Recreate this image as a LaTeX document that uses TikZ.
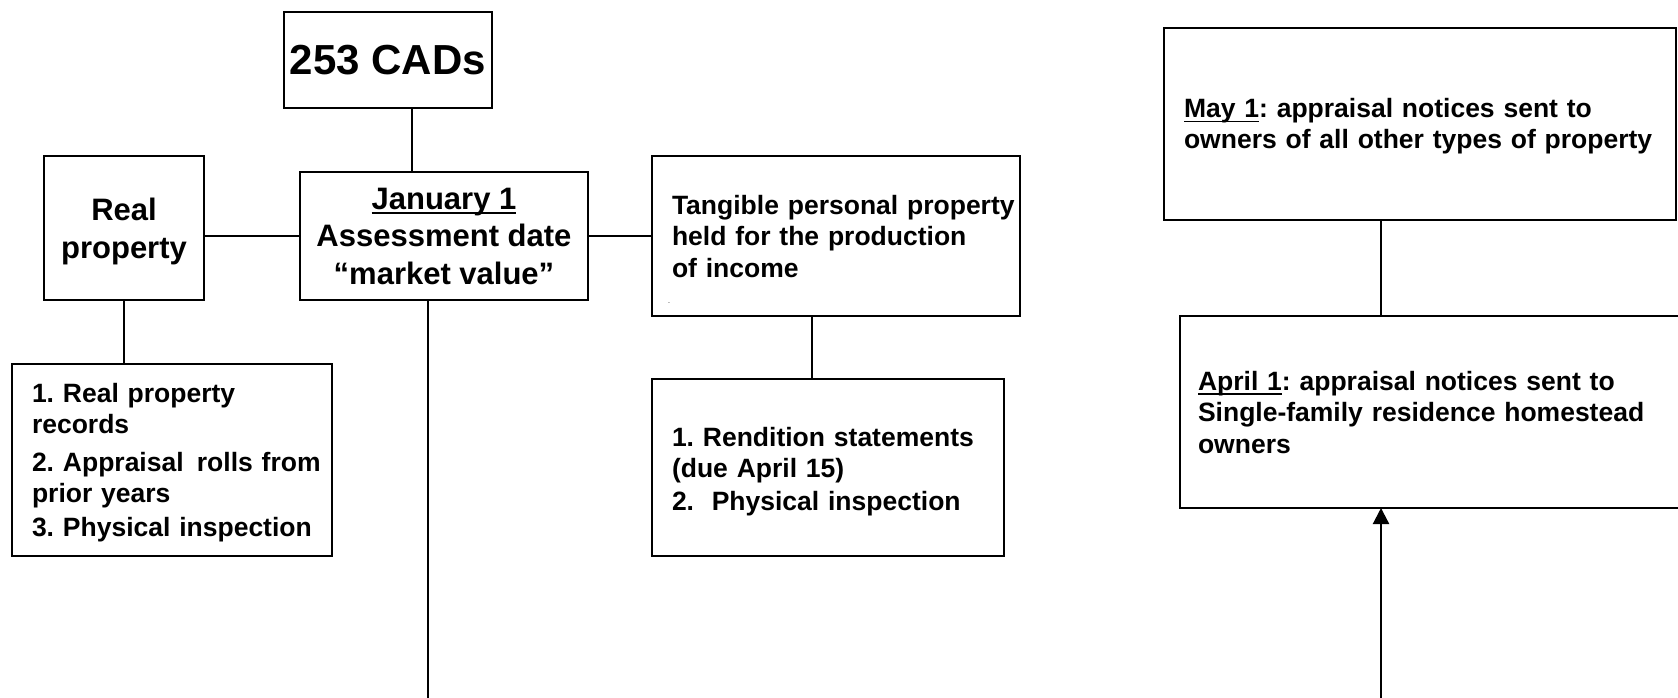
\documentclass[tikz,border=0pt]{standalone}
\usepackage{fontspec}
\setmainfont{Liberation Sans}
\usetikzlibrary{arrows.meta}
\frenchspacing
\newcommand\myul[1]{{\setbox0\hbox{#1}\rlap{\rule[-4.5pt]{\wd0}{2pt}}\box0}}
\newcommand\cadsfont{\fontsize{42}{48}\selectfont\bfseries}
\newcommand\bigfont{\fontsize{31}{37.5}\selectfont\bfseries}
\newcommand\smallfont{\fontsize{26.5}{31.5}\selectfont\bfseries}
\begin{document}
\begin{tikzpicture}[x=1pt,y=-1pt,line width=2.2pt,
  box/.style={draw,rectangle,inner sep=0pt,outer sep=0pt,anchor=north west},
  txt/.style={inner sep=0pt,outer sep=0pt,anchor=base west,align=left,text width=480pt,font=\smallfont},
  arrowtip/.style={-{Triangle[width=16pt,length=16pt]}}]
\useasboundingbox (0,0) rectangle (1678,698);
% top/left group
\node[box,minimum width=208pt,minimum height=96pt,font=\cadsfont] (cads) at (284,12) {253 CADs};
\node[box,minimum width=160pt,minimum height=144pt] (real) at (44,156) {};
\node[inner sep=0pt,anchor=base,align=center,font=\bigfont] (realT) at (124,258) {Real\\property};
\node[box,minimum width=288pt,minimum height=128pt,align=center,font=\bigfont] (jan) at (300,172) {\myul{January 1}\\Assessment date\\“market value”};
\node[box,minimum width=368pt,minimum height=160pt] (tang) at (652,156) {};
\node[txt] (tangT) at (672,214) {Tangible personal property\\held for the production\\of income};
\node[inner sep=0pt,anchor=base west,font=\fontsize{7}{7}\selectfont] (tdot) at (667,303) {.};
\node[box,minimum width=320pt,minimum height=192pt] (list) at (12,364) {};
\node[txt] (listT) at (32,402) {1. Real property\\records\\[6pt]2. Appraisal\ \,rolls from\\prior years\\[2pt]3. Physical inspection};
\node[box,minimum width=352pt,minimum height=177pt] (rend) at (652,379) {};
\node[txt] (rendT) at (672,446) {1. Rendition statements\\(due April 15)\\[1pt]2.\ \ Physical inspection};
% right group
\node[box,minimum width=512pt,minimum height=192pt] (may) at (1164,28) {};
\node[txt] (mayT) at (1184,118) {\myul{May 1}: appraisal notices sent to\\[-1.5pt]owners of all other types of property};
\node[box,minimum width=530pt,minimum height=192pt] (april) at (1180,316) {};
\node[txt] (aprilT) at (1198,390) {\myul{April 1}: appraisal notices sent to\\Single-family residence homestead\\owners};
% connector helpers
\coordinate (k1) at (412,0);
\coordinate (k2) at (812,0);
\coordinate (k3) at (1381,0);
\coordinate (jend) at (428,698);
\coordinate (abot) at (1381,698);
% connectors
\draw (cads.south -| k1) -- (jan.north -| k1);
\draw (real.east |- jan.west) -- (jan.west);
\draw (jan.east) -- (tang.west |- jan.east);
\draw (real.south) -- (real.south |- list.north);
\draw (jan.south -| jend) -- (jend);
\draw (tang.south -| k2) -- (rend.north -| k2);
\draw (may.south -| k3) -- (april.north -| k3);
\draw[arrowtip] (abot) -- (april.south -| abot);
\end{tikzpicture}
\end{document}
